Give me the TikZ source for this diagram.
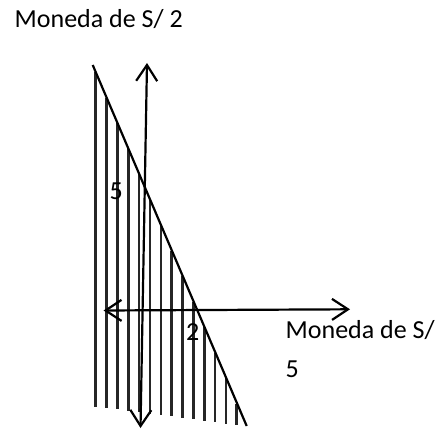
\documentclass[tikz,border=0pt]{standalone}
\usepackage{fontspec}
\setmainfont{Carlito}
\usetikzlibrary{arrows.meta}
\begin{document}
\begin{tikzpicture}[x=1pt,y=-1pt,
  axis/.style={line width=2.2pt,{Straight Barb[length=16pt,width=21pt]}-{Straight Barb[length=16pt,width=21pt]}},
  hatchline/.style={line width=2.6pt,black!85},
  mainline/.style={line width=2.2pt},
  lbl/.style={inner sep=0pt,anchor=base west,font=\fontsize{26}{39}\selectfont}]
\useasboundingbox (0,0) rectangle (446,430);
% hatching
\foreach \i in {0,...,13}{
  \pgfmathsetmacro{\hx}{95.7+\i*10.85}
  \pgfmathsetmacro{\ht}{65+(\hx-92.7)*2.35}
  \pgfmathsetmacro{\hb}{406.5+(\hx-95)*0.13}
  \draw[hatchline] (\hx,\ht) -- (\hx,\hb);
}
% axes
\coordinate (ytop) at (147,63);
\coordinate (ybot) at (140.5,428);
\coordinate (xl) at (103.5,310.5);
\coordinate (xr) at (350,309.3);
\draw[axis] (ybot) -- (ytop);
\draw[axis] (xl) -- (xr);
% constraint line
\coordinate (dtop) at (92.7,65);
\coordinate (dbot) at (246.7,426);
\draw[mainline] (dtop) -- (dbot);
% labels
\node[lbl] (ylab) at (14.5,28) {Moneda de S/ 2};
\node[lbl] (five) at (109.5,199.5) {5};
\node[lbl] (two) at (186,340.5) {2};
\node[lbl,align=left] (xlab) at (285.5,377) {Moneda de S/\\5};
\end{tikzpicture}
\end{document}
